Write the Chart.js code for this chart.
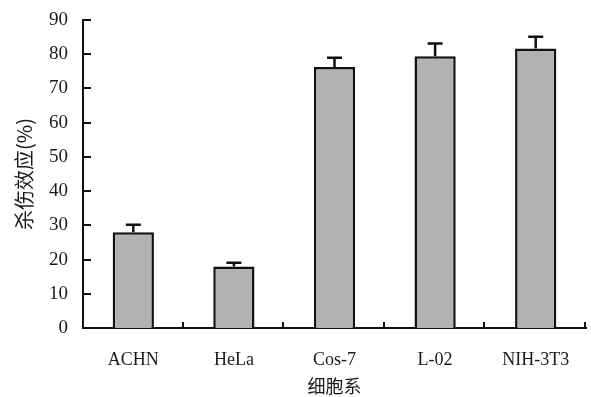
<!DOCTYPE html>
<html>
<head>
<meta charset="utf-8">
<script src="https://cdn.jsdelivr.net/npm/chart.js@4/dist/chart.umd.min.js"></script>
<style>
  html, body { margin: 0; padding: 0; background: #ffffff; }
  #chart { display: block; }
</style>
</head>
<body>
<canvas id="chart" width="591" height="397"></canvas>
<script>
const cellLines = ["ACHN", "HeLa", "Cos-7", "L-02", "NIH-3T3"];
const killEffect = [28.0, 18.0, 76.3, 79.4, 81.7];
const errorUp = [2.2, 1.1, 2.7, 3.7, 3.4];
const yTicks = [0, 10, 20, 30, 40, 50, 60, 70, 80, 90];

const serif = "'Liberation Serif', 'DejaVu Serif', serif";
const cjk = "'Noto Sans CJK SC', sans-serif";

const errorBars = {
  id: "errorBars",
  afterDatasetsDraw(chart) {
    const ctx = chart.ctx;
    const yScale = chart.scales.y;
    const meta = chart.getDatasetMeta(0);
    ctx.save();
    ctx.strokeStyle = "#111";
    ctx.lineWidth = 2.5;
    meta.data.forEach((bar, i) => {
      const yBase = yScale.getPixelForValue(killEffect[i]);
      const yTop = yScale.getPixelForValue(killEffect[i] + errorUp[i]);
      ctx.beginPath();
      ctx.moveTo(bar.x, yBase);
      ctx.lineTo(bar.x, yTop);
      ctx.moveTo(bar.x - 7.5, yTop);
      ctx.lineTo(bar.x + 7.5, yTop);
      ctx.stroke();
    });
    ctx.restore();
  }
};

const innerTicks = {
  id: "innerTicks",
  afterDraw(chart) {
    const ctx = chart.ctx;
    const area = chart.chartArea;
    const yScale = chart.scales.y;
    ctx.save();
    ctx.strokeStyle = "#111";
    ctx.lineWidth = 2;
    ctx.beginPath();
    yTicks.forEach((v) => {
      const y = Math.round(yScale.getPixelForValue(v));
      ctx.moveTo(area.left, y);
      ctx.lineTo(area.left + 8, y);
    });
    const step = (area.right - area.left) / cellLines.length;
    for (let i = 1; i <= cellLines.length; i += 1) {
      const x = Math.round(area.left + i * step) - 1;
      ctx.moveTo(x, area.bottom);
      ctx.lineTo(x, area.bottom - 6);
    }
    ctx.stroke();
    ctx.restore();
  }
};

new Chart(document.getElementById("chart"), {
  type: "bar",
  data: {
    labels: cellLines,
    datasets: [{
      data: killEffect,
      backgroundColor: "#b2b2b2",
      borderColor: "#111",
      borderWidth: 2.5,
      categoryPercentage: 1,
      barPercentage: 0.41
    }]
  },
  options: {
    responsive: false,
    animation: false,
    layout: { padding: { top: 20, right: 5, left: 0, bottom: 0 } },
    plugins: { legend: { display: false }, tooltip: { enabled: false } },
    scales: {
      x: {
        grid: { display: false },
        border: { color: "#111", width: 2 },
        ticks: {
          color: "#1a1a1a",
          padding: 13,
          font: { family: serif, size: 18 }
        },
        title: {
          display: true,
          text: "细胞系",
          color: "#1a1a1a",
          font: { family: cjk, size: 18 },
          padding: { top: 11, bottom: 0 }
        },
        afterFit(scale) {
          scale.height = 69;
          scale.paddingLeft = 0;
          scale.paddingRight = 0;
        }
      },
      y: {
        min: 0,
        max: 90,
        afterBuildTicks(scale) { scale.ticks = yTicks.map((v) => ({ value: v })); },
        grid: { display: false, drawTicks: false },
        border: { color: "#111", width: 2 },
        ticks: {
          color: "#1a1a1a",
          padding: 15,
          font: { family: serif, size: 19 }
        },
        title: {
          display: true,
          text: "杀伤效应(%)",
          color: "#1a1a1a",
          font: { family: cjk, size: 20 },
          padding: { top: 12, bottom: 0 }
        },
        afterFit(scale) {
          scale.width = 83;
          scale.paddingTop = 0;
          scale.paddingBottom = 0;
        }
      }
    }
  },
  plugins: [errorBars, innerTicks]
});
</script>
</body>
</html>
